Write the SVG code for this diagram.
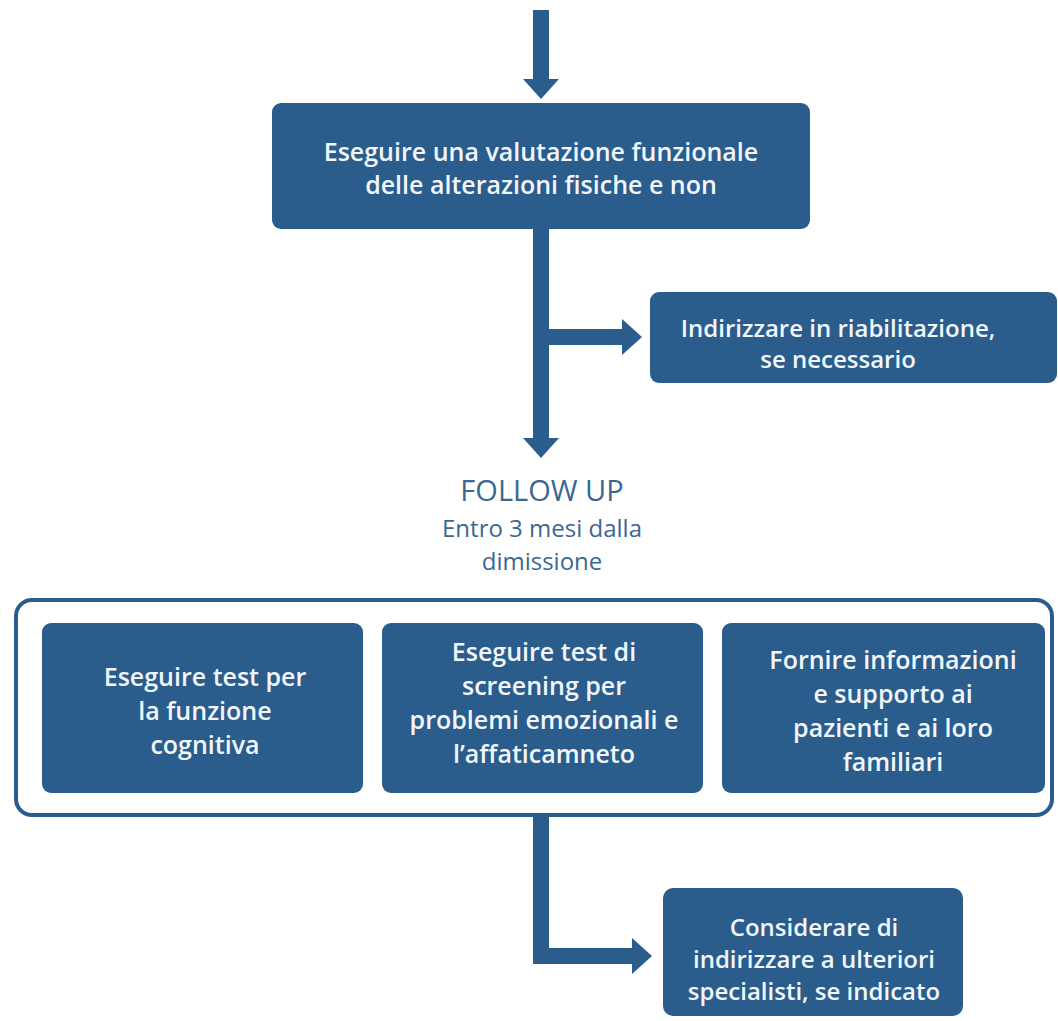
<svg xmlns="http://www.w3.org/2000/svg" width="1058" height="1021" viewBox="0 0 1058 1021">
<style>
.box{fill:#2a5d8c}
.bt{font-family:"Open Sans","Noto Sans","Liberation Sans",sans-serif;font-weight:600;font-size:25px;fill:#f2f6fa;text-anchor:middle}
.ft{font-family:"Open Sans","Noto Sans","Liberation Sans",sans-serif;font-weight:500;fill:#3a6892;text-anchor:middle}
.con{fill:none;stroke:#2a5d8c;stroke-width:16;stroke-linejoin:miter}
</style>
<defs>
<marker id="ah" markerUnits="userSpaceOnUse" markerWidth="20" markerHeight="36" viewBox="0 0 20 36" refX="0" refY="18" orient="auto">
<path d="M0,0 L20,18 L0,36 z" fill="#2a5d8c"/>
</marker>
</defs>
<rect width="1058" height="1021" fill="#ffffff"/>
<g id="connectors">
<line class="con" x1="541" y1="10" x2="541" y2="79" marker-end="url(#ah)"/>
<line class="con" x1="541" y1="229" x2="541" y2="438" marker-end="url(#ah)"/>
<line class="con" x1="541" y1="337" x2="622" y2="337" marker-end="url(#ah)"/>
<path class="con" d="M541,817 L541,956 L632,956" marker-end="url(#ah)"/>
</g>
<g id="node-valutazione">
<rect class="box" x="272" y="103" width="538" height="126" rx="9"/>
<text class="bt" x="541" y="161">Eseguire una valutazione funzionale</text>
<text class="bt" x="541" y="194">delle alterazioni fisiche e non</text>
</g>
<g id="node-riabilitazione">
<rect class="box" x="650" y="292" width="407" height="91" rx="9"/>
<text class="bt" x="838" y="337" style="font-size:24px">Indirizzare in riabilitazione,</text>
<text class="bt" x="838" y="368" style="font-size:24px">se necessario</text>
</g>
<g id="node-followup">
<text class="ft" x="542" y="501" style="font-size:29px">FOLLOW UP</text>
<text class="ft" x="542" y="537" style="font-size:24px">Entro 3 mesi dalla</text>
<text class="ft" x="542" y="570" style="font-size:24px">dimissione</text>
</g>
<g id="node-container">
<rect x="16" y="600" width="1036" height="215" rx="16" fill="#ffffff" stroke="#2a5d8c" stroke-width="4"/>
</g>
<g id="node-cognitiva">
<rect class="box" x="42" y="623" width="321" height="170" rx="9"/>
<text class="bt" x="205" y="686">Eseguire test per</text>
<text class="bt" x="205" y="720">la funzione</text>
<text class="bt" x="205" y="754">cognitiva</text>
</g>
<g id="node-screening">
<rect class="box" x="382" y="623" width="321" height="170" rx="9"/>
<text class="bt" x="544" y="661">Eseguire test di</text>
<text class="bt" x="544" y="695">screening per</text>
<text class="bt" x="544" y="729">problemi emozionali e</text>
<text class="bt" x="544" y="763">l’affaticamneto</text>
</g>
<g id="node-informazioni">
<rect class="box" x="722" y="623" width="323" height="170" rx="9"/>
<text class="bt" x="893" y="669">Fornire informazioni</text>
<text class="bt" x="893" y="703">e supporto ai</text>
<text class="bt" x="893" y="737">pazienti e ai loro</text>
<text class="bt" x="893" y="771">familiari</text>
</g>
<g id="node-specialisti">
<rect class="box" x="663" y="888" width="300" height="128" rx="10"/>
<text class="bt" x="814" y="936" style="font-size:24px">Considerare di</text>
<text class="bt" x="814" y="968" style="font-size:24px">indirizzare a ulteriori</text>
<text class="bt" x="814" y="1000" style="font-size:24px">specialisti, se indicato</text>
</g>
</svg>
